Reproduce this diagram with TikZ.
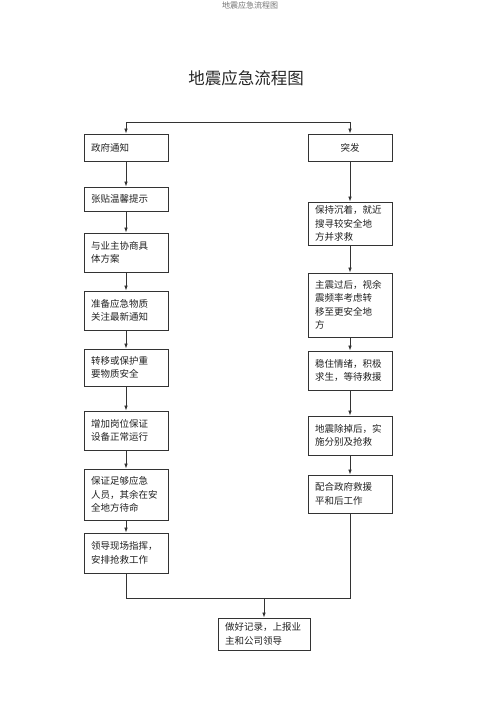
\documentclass[tikz,border=0pt]{standalone}
\usepackage{fontspec}
\newfontfamily\cjk{Noto Sans CJK SC}
\usetikzlibrary{arrows.meta,shadows,positioning}
\definecolor{linec}{HTML}{333333}
\definecolor{txtc}{HTML}{222222}
\begin{document}
\begin{tikzpicture}[x=1pt,y=-1pt,
  box/.style={draw=linec, line width=0.8pt, fill=white, text=txtc,
    font={\cjk\fontsize{9.5}{13.5}\selectfont}, align=left,
    text width=70pt, inner xsep=7pt, inner ysep=2pt,
    drop shadow={shadow xshift=1.2pt, shadow yshift=-1.2pt, fill=black!60, opacity=0.8}},
  wbox/.style={box, text width=78pt},
  conn/.style={draw=linec, line width=0.7pt},
  arr/.style={conn, -{Latex[length=5pt,width=3.5pt]}}]
\useasboundingbox (0,0) rectangle (500,708);
\node[font={\cjk\fontsize{8}{9}\selectfont}, text=black!55] (hdr) at (250,5) {地震应急流程图};
\node[font={\cjk\fontsize{16.5}{18}\selectfont}, text=black!85] (title) at (246,78) {地震应急流程图};

% left column
\node[box, minimum height=27pt] (l1) at (126,147.5) {政府通知};
\node[box, minimum height=24pt] (l2) at (126,199) {张贴温馨提示};
\node[box, minimum height=39pt] (l3) at (126,252.5) {与业主协商具\\体方案};
\node[box, minimum height=39pt] (l4) at (126,310.5) {准备应急物质\\关注最新通知};
\node[box, minimum height=37pt] (l5) at (126,367.5) {转移或保护重\\要物质安全};
\node[box, minimum height=39pt] (l6) at (126,430.5) {增加岗位保证\\设备正常运行};
\node[box, minimum height=51pt] (l7) at (126,494.5) {保证足够应急\\人员，其余在安\\全地方待命};
\node[box, minimum height=40pt] (l8) at (126,553) {领导现场指挥，\\安排抢救工作};

% right column
\node[box, minimum height=27pt, align=center] (r1) at (350,147.5) {突发};
\node[box, minimum height=43pt] (r2) at (350,223.5) {保持沉着，就近\\搜寻较安全地\\方并求救};
\node[box, minimum height=64pt] (r3) at (350,305) {主震过后，视余\\震频率考虑转\\移至更安全地\\方};
\node[box, minimum height=39pt] (r4) at (350,370.5) {稳住情绪，积极\\求生，等待救援};
\node[box, minimum height=39pt] (r5) at (350,435.5) {地震除掉后，实\\施分别及抢救};
\node[box, minimum height=38pt] (r6) at (350,494) {配合政府救援\\平和后工作};

% bottom
\node[wbox, minimum height=32pt] (rec) at (264,634) {做好记录，上报业\\主和公司领导};

% connectors
\coordinate (top) at (240,122);
\draw[arr] (top) -| (l1.north);
\draw[arr] (top) -| (r1.north);
\foreach \a/\b in {l1/l2,l2/l3,l3/l4,l4/l5,l5/l6,l6/l7,l7/l8,r1/r2,r2/r3,r3/r4,r4/r5,r5/r6}
  \draw[arr] (\a.south) -- (\b.north);
\coordinate (jn) at (264,598);
\draw[conn] (l8.south) |- (jn);
\draw[conn] (r6.south) |- (jn);
\draw[arr] (jn) -- (rec.north);
\end{tikzpicture}
\end{document}
